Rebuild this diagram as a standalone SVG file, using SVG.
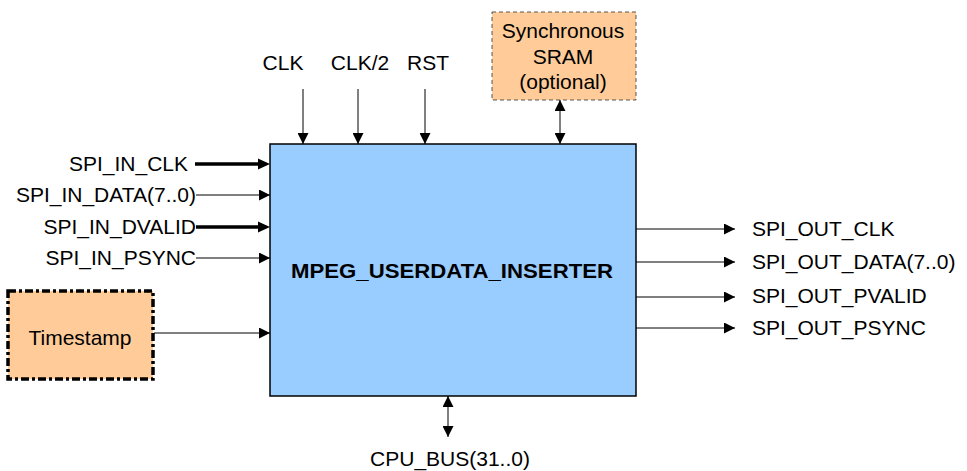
<svg xmlns="http://www.w3.org/2000/svg" width="967" height="471" viewBox="0 0 967 471">
<style>
text{font-family:"Liberation Sans",Arial,sans-serif;font-size:21px;fill:#000}
.thin{stroke:#000;stroke-width:1;fill:none}
.thick{stroke:#000;stroke-width:3.5;fill:none}
</style>
<defs>
<marker id="ah" viewBox="0 0 10 10" refX="10" refY="5" markerWidth="12" markerHeight="11" markerUnits="userSpaceOnUse" orient="auto-start-reverse"><path d="M0,0 L10,5 L0,10 Z" fill="#000"/></marker>
</defs>
<rect width="967" height="471" fill="#fff"/>
<g id="main">
<rect x="270" y="144" width="366" height="252" fill="#99CCFF" stroke="#000" stroke-width="1.5"/>
<text x="452" y="278" text-anchor="middle" style="font-weight:bold" textLength="322" lengthAdjust="spacingAndGlyphs">MPEG_USERDATA_INSERTER</text>
</g>
<g id="sram">
<rect x="492" y="12" width="144" height="88" fill="#FFCC99" stroke="#555" stroke-width="1" stroke-dasharray="4,3"/>
<text x="563" y="38" text-anchor="middle">Synchronous</text>
<text x="563" y="64" text-anchor="middle">SRAM</text>
<text x="563" y="89" text-anchor="middle">(optional)</text>
</g>
<g id="timestamp">
<rect x="8" y="291" width="145" height="88" fill="#FFCC99" stroke="#000" stroke-width="3.5" stroke-dasharray="8,3,3,3"/>
<text x="80" y="345" text-anchor="middle">Timestamp</text>
</g>
<g id="labels">
<text x="283" y="70" text-anchor="middle">CLK</text>
<text x="360" y="70" text-anchor="middle">CLK/2</text>
<text x="428" y="70" text-anchor="middle">RST</text>
<text x="188" y="171" text-anchor="end">SPI_IN_CLK</text>
<text x="196" y="202" text-anchor="end">SPI_IN_DATA(7..0)</text>
<text x="196" y="234" text-anchor="end">SPI_IN_DVALID</text>
<text x="196" y="265" text-anchor="end">SPI_IN_PSYNC</text>
<text x="752" y="236">SPI_OUT_CLK</text>
<text x="752" y="269">SPI_OUT_DATA(7..0)</text>
<text x="752" y="303">SPI_OUT_PVALID</text>
<text x="752" y="335">SPI_OUT_PSYNC</text>
<text x="450" y="466" text-anchor="middle">CPU_BUS(31..0)</text>
</g>
<g id="connectors">
<line class="thin" x1="303" y1="89" x2="303" y2="144" marker-end="url(#ah)"/>
<line class="thin" x1="358" y1="89" x2="358" y2="144" marker-end="url(#ah)"/>
<line class="thin" x1="425" y1="89" x2="425" y2="144" marker-end="url(#ah)"/>
<line class="thin" x1="560" y1="100" x2="560" y2="144" marker-start="url(#ah)" marker-end="url(#ah)"/>
<line class="thick" x1="195" y1="164" x2="262" y2="164"/>
<path d="M258,158.5 L270,164 L258,169.5 Z" fill="#000"/>
<line class="thin" x1="196" y1="195" x2="270" y2="195" marker-end="url(#ah)"/>
<line class="thick" x1="196" y1="227" x2="262" y2="227"/>
<path d="M258,221.5 L270,227 L258,232.5 Z" fill="#000"/>
<line class="thin" x1="196" y1="258" x2="270" y2="258" marker-end="url(#ah)"/>
<line class="thin" x1="154" y1="333" x2="270" y2="333" marker-end="url(#ah)"/>
<line class="thin" x1="636" y1="229" x2="735" y2="229" marker-end="url(#ah)"/>
<line class="thin" x1="636" y1="262" x2="735" y2="262" marker-end="url(#ah)"/>
<line class="thin" x1="636" y1="297" x2="735" y2="297" marker-end="url(#ah)"/>
<line class="thin" x1="636" y1="328" x2="735" y2="328" marker-end="url(#ah)"/>
<line class="thin" x1="448" y1="396" x2="448" y2="437" marker-start="url(#ah)" marker-end="url(#ah)"/>
</g>
</svg>
